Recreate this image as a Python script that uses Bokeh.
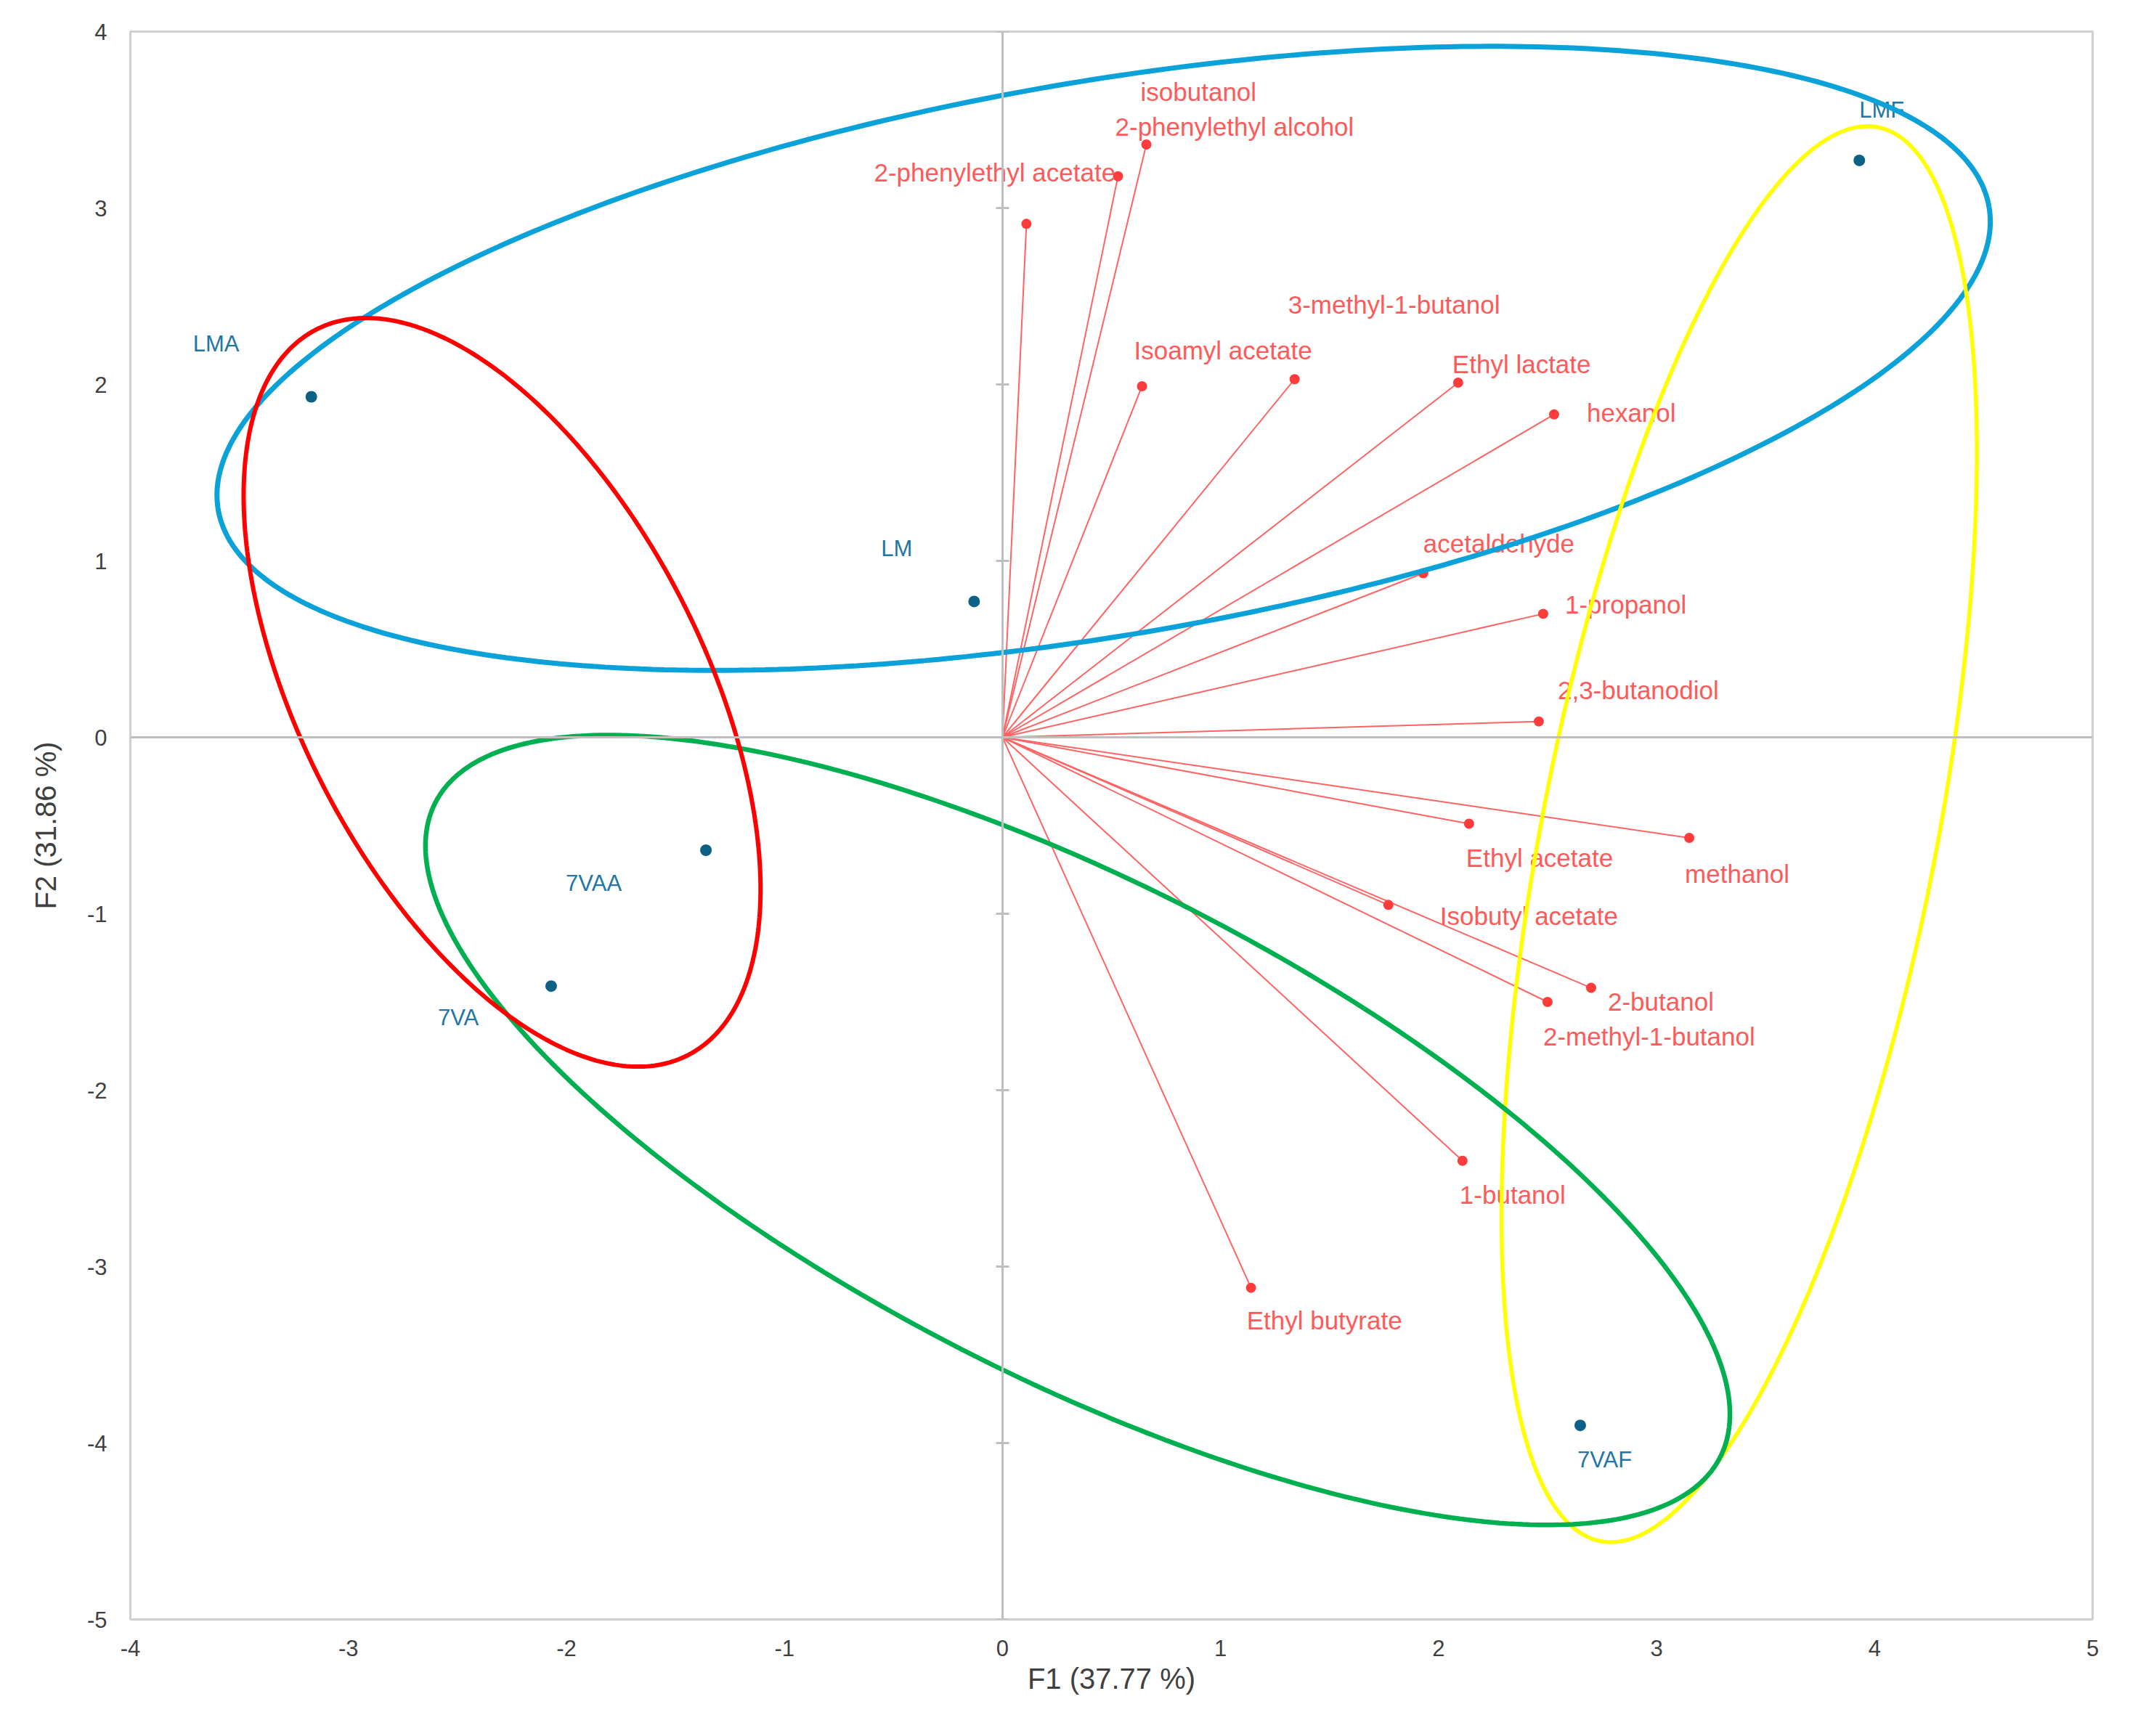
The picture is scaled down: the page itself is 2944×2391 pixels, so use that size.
import numpy as np
from bokeh.plotting import figure
from bokeh.models import (ColumnDataSource, LinearAxis, FixedTicker, Range1d,
                          CustomLabelingPolicy)
from bokeh.embed import file_html
from bokeh.resources import INLINE
from bokeh.core.properties import value

# ---------------- data ----------------
var_names = ["2-phenylethyl acetate", "2-phenylethyl alcohol", "isobutanol",
             "Isoamyl acetate", "3-methyl-1-butanol", "Ethyl lactate", "hexanol",
             "acetaldehyde", "1-propanol", "2,3-butanodiol", "Ethyl acetate",
             "methanol", "Isobutyl acetate", "2-butanol", "2-methyl-1-butanol",
             "1-butanol", "Ethyl butyrate"]
var_f1 = [0.11, 0.53, 0.66, 0.64, 1.34, 2.09, 2.53, 1.93, 2.48, 2.46, 2.14,
          3.15, 1.77, 2.70, 2.50, 2.11, 1.14]
var_f2 = [2.91, 3.18, 3.36, 1.99, 2.03, 2.01, 1.83, 0.93, 0.70, 0.09, -0.49,
          -0.57, -0.95, -1.42, -1.50, -2.40, -3.12]

obs_names = ["LMA", "LM", "7VAA", "7VA", "LMF", "7VAF"]
obs_f1 = [-3.17, -0.13, -1.36, -2.07, 3.93, 2.65]
obs_f2 = [1.93, 0.77, -0.64, -1.41, 3.27, -3.90]

x_ticks = [-4, -3, -2, -1, 0, 1, 2, 3, 4, 5]
y_ticks = [-5, -4, -3, -2, -1, 0, 1, 2, 3, 4]
x_title = "F1 (37.77 %)"
y_title = "F2 (31.86 %)"

# group ellipses: centre (data), semi-axes (in x-axis units of screen length), angle (deg, screen)
ell_colors = ["#0aa2d8", "#ffff00", "#00b050", "#ff0000"]
ell_cx = [0.464, 3.379, 0.345, -2.295]
ell_cy = [2.148, -0.549, -2.226, 0.255]
ell_a = [4.12, 3.305, 3.307, 1.870]
ell_b = [1.27, 0.902, 1.138, 0.926]
ell_ang = [9.7, 78.9, -27.0, -62.9]
ell_w = [7.0, 5.5, 6.5, 6.0]

# label placement (screen px offsets)
var_dx = [-210, -4, -8, -11, -9, -8, 45, 0, 30, 26, -4, -6, 71, 23, -6, -4, -6]
var_dy = [-71, -68, -73, -49, -103, -26, -2, -41, -13, -43, 47, 49, 15, 19, 47, 47, 45]
obs_dx = [-163, -128, -193, -156, 0, -4]
obs_dy = [-73, -73, 45, 43, -69, 47]

# ---------------- layout ----------------
W, H = 2920, 2370
BL, BR, BT, BB = 179, 39, 43, 140
px_x = (W - BL - BR) / 9.0
px_y = (H - BT - BB) / 9.0

FONT = "Liberation Sans"
AX_GRAY = "#bfbfbf"

p = figure(width=W, height=H, x_range=Range1d(-4, 5), y_range=Range1d(-5, 4),
           output_backend="svg", toolbar_location=None,
           min_border_left=BL, min_border_right=BR,
           min_border_top=BT, min_border_bottom=BB)
p.xgrid.visible = False
p.ygrid.visible = False
p.outline_line_color = "#d0d0d0"
p.outline_line_width = 3
p.background_fill_color = "white"

for ax, ticks, title in ((p.xaxis[0], x_ticks, x_title), (p.yaxis[0], y_ticks, y_title)):
    ax.ticker = FixedTicker(ticks=ticks)
    ax.major_label_overrides = {t: str(t) for t in ticks}
    ax.axis_line_color = None
    ax.major_tick_line_color = None
    ax.minor_tick_line_color = None
    ax.major_tick_out = 0
    ax.major_tick_in = 0
    ax.major_label_text_font = FONT
    ax.major_label_text_font_size = "31px"
    ax.major_label_text_color = "#404040"
    ax.axis_label = title
    ax.axis_label_text_font = FONT
    ax.axis_label_text_font_size = "40px"
    ax.axis_label_text_font_style = "normal"
    ax.axis_label_text_color = "#404040"

p.xaxis[0].major_label_standoff = 28
p.xaxis[0].axis_label_standoff = 6
p.yaxis[0].major_label_standoff = 32
p.yaxis[0].axis_label_standoff = 32

hide_all = CustomLabelingPolicy(code="""
try { for (const i of Array.from(indices)) indices.unset(i) } catch (e) {}
return indices
""")

# zero axes (vertical one carries cross tick marks)
zx = LinearAxis(fixed_location=0, ticker=FixedTicker(ticks=x_ticks),
                axis_line_color=AX_GRAY, axis_line_width=3,
                major_tick_line_color=None, minor_tick_line_color=None,
                major_tick_in=0, major_tick_out=0,
                major_label_policy=hide_all,
                major_label_text_font_size="1px", major_label_text_alpha=0)
zy = LinearAxis(fixed_location=0, ticker=FixedTicker(ticks=y_ticks),
                axis_line_color=AX_GRAY, axis_line_width=3,
                major_tick_line_color=AX_GRAY, major_tick_line_width=3,
                major_tick_in=9, major_tick_out=9, minor_tick_line_color=None,
                major_label_policy=CustomLabelingPolicy(code="""
try { for (const i of Array.from(indices)) indices.unset(i) } catch (e) {}
return indices
"""),
                major_label_text_font_size="1px", major_label_text_alpha=0)
p.add_layout(zx, "below")
p.add_layout(zy, "left")

# variables: vectors from the origin
vsrc = ColumnDataSource(dict(x0=[0.0] * len(var_f1), y0=[0.0] * len(var_f1),
                             x=var_f1, y=var_f2, name=var_names,
                             dx=var_dx, dy=var_dy))
p.segment(x0="x0", y0="y0", x1="x", y1="y", source=vsrc,
          line_color="#ff6464", line_width=2)
p.scatter(x="x", y="y", source=vsrc, size=14, fill_color="#ff3c3c",
          line_color=None)
p.text(x="x", y="y", text="name", source=vsrc, x_offset="dx", y_offset="dy",
       text_font=value(FONT), text_font_size="35px", text_color="#ff5a5a",
       text_align="left", text_baseline="middle")

# observations
osrc = ColumnDataSource(dict(x=obs_f1, y=obs_f2, name=obs_names,
                             dx=obs_dx, dy=obs_dy))
p.scatter(x="x", y="y", source=osrc, size=16, fill_color="#0d6184",
          line_color=None)
p.text(x="x", y="y", text="name", source=osrc, x_offset="dx", y_offset="dy",
       text_font=value(FONT), text_font_size="31px", text_color="#2376a3",
       text_align="left", text_baseline="middle")

# group ellipses
t = np.linspace(0, 2 * np.pi, 400)
for c, cx, cy, a, b, ang, lw in zip(ell_colors, ell_cx, ell_cy, ell_a, ell_b, ell_ang, ell_w):
    th = np.radians(ang)
    sx = a * np.cos(t) * np.cos(th) - b * np.sin(t) * np.sin(th)
    sy = a * np.cos(t) * np.sin(th) + b * np.sin(t) * np.cos(th)
    p.line(cx + sx, cy + sy * (px_x / px_y), line_color=c, line_width=lw)

open("out.html", "w").write(file_html(p, INLINE))
